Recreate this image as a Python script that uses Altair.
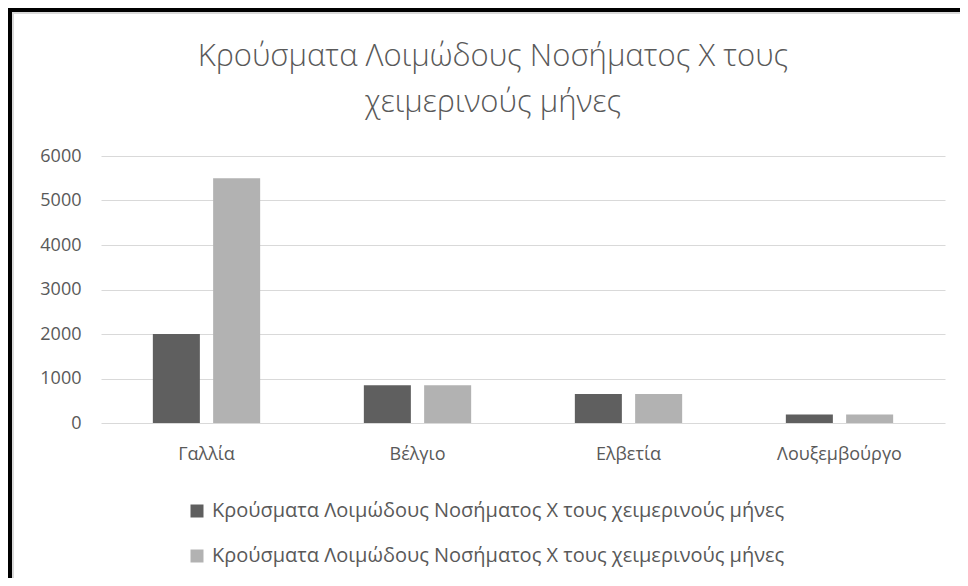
import altair as alt
import pandas as pd

countries = ["Γαλλία", "Βέλγιο", "Ελβετία", "Λουξεμβούργο"]
series_a = [2000, 850, 650, 190]
series_b = [5500, 850, 650, 190]
series_keys = ["s1", "s2"]
series_label = "Κρούσματα Λοιμώδους Νοσήματος Χ τους χειμερινούς μήνες"
title_lines = ["Κρούσματα Λοιμώδους Νοσήματος Χ τους", "χειμερινούς μήνες"]
y_ticks = [0, 1000, 2000, 3000, 4000, 5000, 6000]
colors = ["#5f5f5f", "#b2b2b2"]

rows = []
for c, a, b in zip(countries, series_a, series_b):
    rows.append({"country": c, "series": series_keys[0], "value": a})
    rows.append({"country": c, "series": series_keys[1], "value": b})
df = pd.DataFrame(rows)

FONT = "Open Sans"
TXT = "#595959"
W, H = 844, 267

bars = alt.Chart(df).mark_bar().encode(
    x=alt.X("country:N", sort=countries, title=None,
            scale=alt.Scale(paddingInner=0, paddingOuter=0),
            axis=alt.Axis(labelAngle=0, domain=False, ticks=False, labelPadding=22,
                          labelFont=FONT, labelFontSize=18, labelColor=TXT)),
    xOffset=alt.XOffset("series:N", scale=alt.Scale(domain=series_keys, paddingInner=0.22, paddingOuter=0.86)),
    y=alt.Y("value:Q", title=None,
            scale=alt.Scale(domain=[0, 6000], nice=False),
            axis=alt.Axis(values=y_ticks, format="d", domain=False, ticks=False, labelPadding=20,
                          labelFont=FONT, labelFontSize=18, labelColor=TXT,
                          gridColor="#d9d9d9", gridWidth=1)),
    color=alt.Color("series:N", scale=alt.Scale(domain=series_keys, range=colors),
                    legend=alt.Legend(title=None, orient="none", legendX=86, legendY=345,
                                      direction="vertical", symbolType="square", symbolSize=169,
                                      symbolStrokeWidth=0, labelFont=FONT, labelFontSize=20,
                                      labelColor=TXT, rowPadding=25, labelOffset=5,
                                      labelExpr="'" + series_label + "'", labelLimit=800)),
)

one = pd.DataFrame({"k": [0]})
border_black_top = alt.Chart(one).mark_rule(color="black", strokeWidth=4).encode(
    x=alt.value(-93), x2=alt.value(W + 15), y=alt.value(-146))
border_gray_top = alt.Chart(one).mark_rule(color="#d9d9d9", strokeWidth=2).encode(
    x=alt.value(-87), x2=alt.value(W + 15), y=alt.value(-143))
border_black_left = alt.Chart(one).mark_rule(color="black", strokeWidth=4).encode(
    x=alt.value(-91), y=alt.value(-148), y2=alt.value(H + 155))
border_gray_left = alt.Chart(one).mark_rule(color="#d9d9d9", strokeWidth=2).encode(
    x=alt.value(-88), y=alt.value(-144), y2=alt.value(H + 155))

chart = alt.layer(bars, border_black_top, border_gray_top, border_black_left, border_gray_left).properties(
    width=W, height=H,
    autosize=alt.AutoSizeParams(type="none"),
    padding={"left": 93, "top": 148, "right": 15, "bottom": 155},
    title=alt.TitleParams(text=title_lines, font=FONT, fontSize=31, fontWeight=300,
                          color=TXT, anchor="middle", dx=-30, lineHeight=46, offset=-113),
).configure(background="white", view=alt.ViewConfig(stroke="transparent"))

chart.save("out.html", embed_options={"renderer": "svg", "actions": False})
